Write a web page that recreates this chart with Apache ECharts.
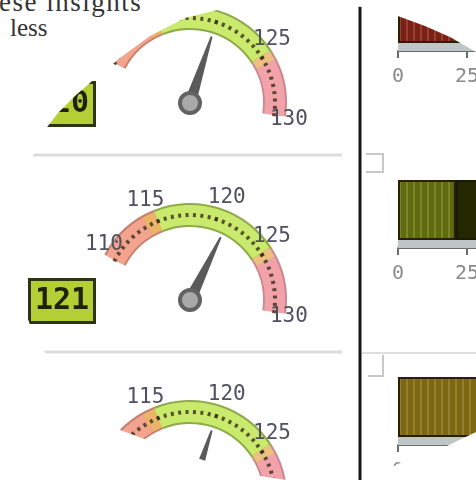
<!DOCTYPE html>
<html>
<head>
<meta charset="utf-8">
<script src="https://cdn.jsdelivr.net/npm/echarts@6/dist/echarts.min.js"></script>
<style>
  html, body { margin: 0; padding: 0; background: #fff; width: 476px; height: 482px; overflow: hidden; }
  #page { position: absolute; left: 0; top: 0; width: 476px; height: 482px;
          font-family: "Liberation Serif", serif; color: #333; line-height: 1; }
  #page div { position: absolute; white-space: nowrap; }
  #lens { position: absolute; left: 0; top: 0; width: 720px; height: 482px; background: #fff;
          filter: blur(0.6px);
          clip-path: polygon(13px 260px, 15px 225px, 21px 192px, 31px 160px, 44px 131px, 58px 113px,
            76px 95px, 98px 76px, 120px 58px, 150px 36px, 185px 18px, 225px 8px, 290px 4px,
            340px 5px, 362px 7px, 395px 15px, 425px 26px, 450px 37px, 476px 52px, 476px 432px,
            447px 446px, 420px 456px, 398px 464px, 382px 472px, 365px 482px, 300px 482px,
            240px 473px, 180px 452px, 120px 430px, 95px 410px, 70px 385px, 48px 358px,
            30px 325px, 19px 292px); }
</style>
</head>
<body>
<div id="page">
  <div style="left:-1px; top:-11px; font-size:27px; letter-spacing:1.5px;">ese insights</div>
  <div style="left:10px; top:15px; font-size:25px;">less</div>
</div>
<div id="lens"></div>
<script>
// Gauge panels: scale and readings
const gaugeMin = 110;
const gaugeMax = 130;
const gaugeLabels = [110, 115, 120, 125, 130];
const gaugeValues = [120, 121, 120];

// Bar panels: axis ticks and segment values (first segment, second segment)
const barTicks = [0, 25, 50, 75, 100];
const barFirst = [60, 21, 70];
const barSecond = [0, 55, 0];
const barColors = ['#7c1f14', '#5f6c0d', '#7e6712'];
const barSecondColor = '#232800';

const chart = echarts.init(document.getElementById('lens'), null, { renderer: 'canvas' });

const ROW = 197;
const series = [];
const grids = [];
const xAxes = [];
const yAxes = [];

const bandColors = [[0.2, '#f3a48e'], [0.25, '#ecb468'], [0.74, '#c9ea6c'], [0.78, '#ecc080'], [1, '#f2a3aa']];
const edgeColors = [[0.25, '#c7806c'], [0.75, '#8fa94a'], [1, '#cc8890']];

gaugeValues.forEach((v, k) => {
  const cy = 300 + (k - 1) * ROW;
  // darker rim under the coloured band
  series.push({
    type: 'gauge', center: [190, cy], radius: 97, startAngle: 152, endAngle: -8,
    min: gaugeMin, max: gaugeMax, splitNumber: gaugeLabels.length - 1, silent: true,
    axisLine: { lineStyle: { width: 24, color: edgeColors } },
    axisTick: { show: false }, splitLine: { show: false }, axisLabel: { show: false },
    pointer: { show: false }, anchor: { show: false }, title: { show: false }, detail: { show: false },
    data: [{ value: v }]
  });
  series.push({
    type: 'gauge', center: [190, cy], radius: 95, startAngle: 152, endAngle: -8,
    min: gaugeMin, max: gaugeMax, splitNumber: gaugeLabels.length - 1,
    axisLine: { lineStyle: { width: 20, color: bandColors } },
    axisTick: { show: true, splitNumber: 8, distance: -12, length: 4,
                lineStyle: { color: 'rgba(55,45,25,0.8)', width: 3 } },
    splitLine: { show: false },
    axisLabel: { show: true, distance: -44, align: 'center', verticalAlign: 'middle',
                 color: '#50505e', fontSize: 21, fontFamily: 'DejaVu Sans Mono' },
    pointer: { show: true, icon: 'path://M4.2,0 L5.8,0 L10,100 L0,100 Z', length: 70, width: 12,
               itemStyle: { color: '#5a5a5a' } },
    anchor: { show: true, showAbove: true, size: 20, icon: 'circle',
              itemStyle: { color: '#a9a9a9', borderColor: '#626262', borderWidth: 4 } },
    title: { show: false },
    detail: {
      show: true, valueAnimation: false, offsetCenter: [-128, 1],
      formatter: '{value}', width: 62, height: 40, lineHeight: 40, padding: 0,
      backgroundColor: '#b3cf35', borderColor: '#2f3410', borderWidth: 3,
      color: '#1e2208', fontSize: 30, fontWeight: 'bold', fontFamily: 'DejaVu Sans Mono'
    },
    data: [{ value: v }]
  });
});

barFirst.forEach((v, k) => {
  const dy = (k - 1) * ROW;
  const gBar = grids.length;
  grids.push({ left: 398, top: 180 + dy, width: 276, height: 60, outerBoundsMode: 'none', containLabel: false });
  xAxes.push({ type: 'value', gridIndex: gBar, min: 0, max: 100, show: false });
  yAxes.push({ type: 'category', gridIndex: gBar, data: [''], show: false });
  const gStrip = grids.length;
  grids.push({ left: 398, top: 240 + dy, width: 276, height: 8, outerBoundsMode: 'none', containLabel: false });
  xAxes.push({
    type: 'value', gridIndex: gStrip, min: barTicks[0], max: barTicks[barTicks.length - 1],
    interval: barTicks[1] - barTicks[0], splitLine: { show: false },
    axisLine: { show: true, lineStyle: { color: '#6c6c6c', width: 2 } },
    axisTick: { show: true, length: 7, lineStyle: { color: '#6c6c6c', width: 2 } },
    axisLabel: { color: '#8a8a8a', fontSize: 20, margin: 16, fontFamily: 'DejaVu Sans Mono',
                 showMinLabel: true, hideOverlap: false }
  });
  yAxes.push({ type: 'category', gridIndex: gStrip, data: [''], show: false });

  const decal = { symbol: 'rect', symbolSize: 1, dashArrayX: [2, 5], dashArrayY: [1, 0],
                  color: 'rgba(255,255,210,0.16)', rotation: 0 };
  series.push({
    type: 'bar', xAxisIndex: gBar, yAxisIndex: gBar, stack: 'b' + k, barWidth: '100%',
    data: [v], itemStyle: { color: barColors[k], borderColor: '#2a1e06', borderWidth: 2, decal: decal }
  });
  if (barSecond[k] > 0) {
    series.push({
      type: 'bar', xAxisIndex: gBar, yAxisIndex: gBar, stack: 'b' + k, barWidth: '100%',
      data: [barSecond[k]], itemStyle: { color: barSecondColor, borderColor: '#1a1c02', borderWidth: 2 }
    });
  }
  series.push({
    type: 'bar', xAxisIndex: gStrip, yAxisIndex: gStrip, barWidth: '100%',
    data: [barTicks[barTicks.length - 1]], itemStyle: { color: '#bec7c6' }, silent: true
  });
});

const graphic = [
  { type: 'line', shape: { x1: 30, y1: 155, x2: 342, y2: 155 }, style: { stroke: '#dcdcdc', lineWidth: 3 } },
  { type: 'line', shape: { x1: 40, y1: 352, x2: 342, y2: 352 }, style: { stroke: '#dcdcdc', lineWidth: 3 } },
  { type: 'line', shape: { x1: 362, y1: 353, x2: 720, y2: 353 }, style: { stroke: '#dedede', lineWidth: 2 } },
  { type: 'polyline', shape: { points: [[366, 154], [383, 154], [383, 172], [366, 172]] },
    style: { stroke: '#c8c8c8', lineWidth: 2, fill: null } },
  { type: 'polyline', shape: { points: [[383, 355], [383, 376], [368, 376]] },
    style: { stroke: '#c8c8c8', lineWidth: 2, fill: null } },
  { type: 'line', shape: { x1: 360, y1: 6, x2: 360, y2: 480 }, style: { stroke: '#161616', lineWidth: 3 }, z: 100 }
];

chart.setOption({
  animation: false,
  backgroundColor: '#fff',
  grid: grids,
  xAxis: xAxes,
  yAxis: yAxes,
  series: series,
  graphic: graphic
});
</script>
</body>
</html>
